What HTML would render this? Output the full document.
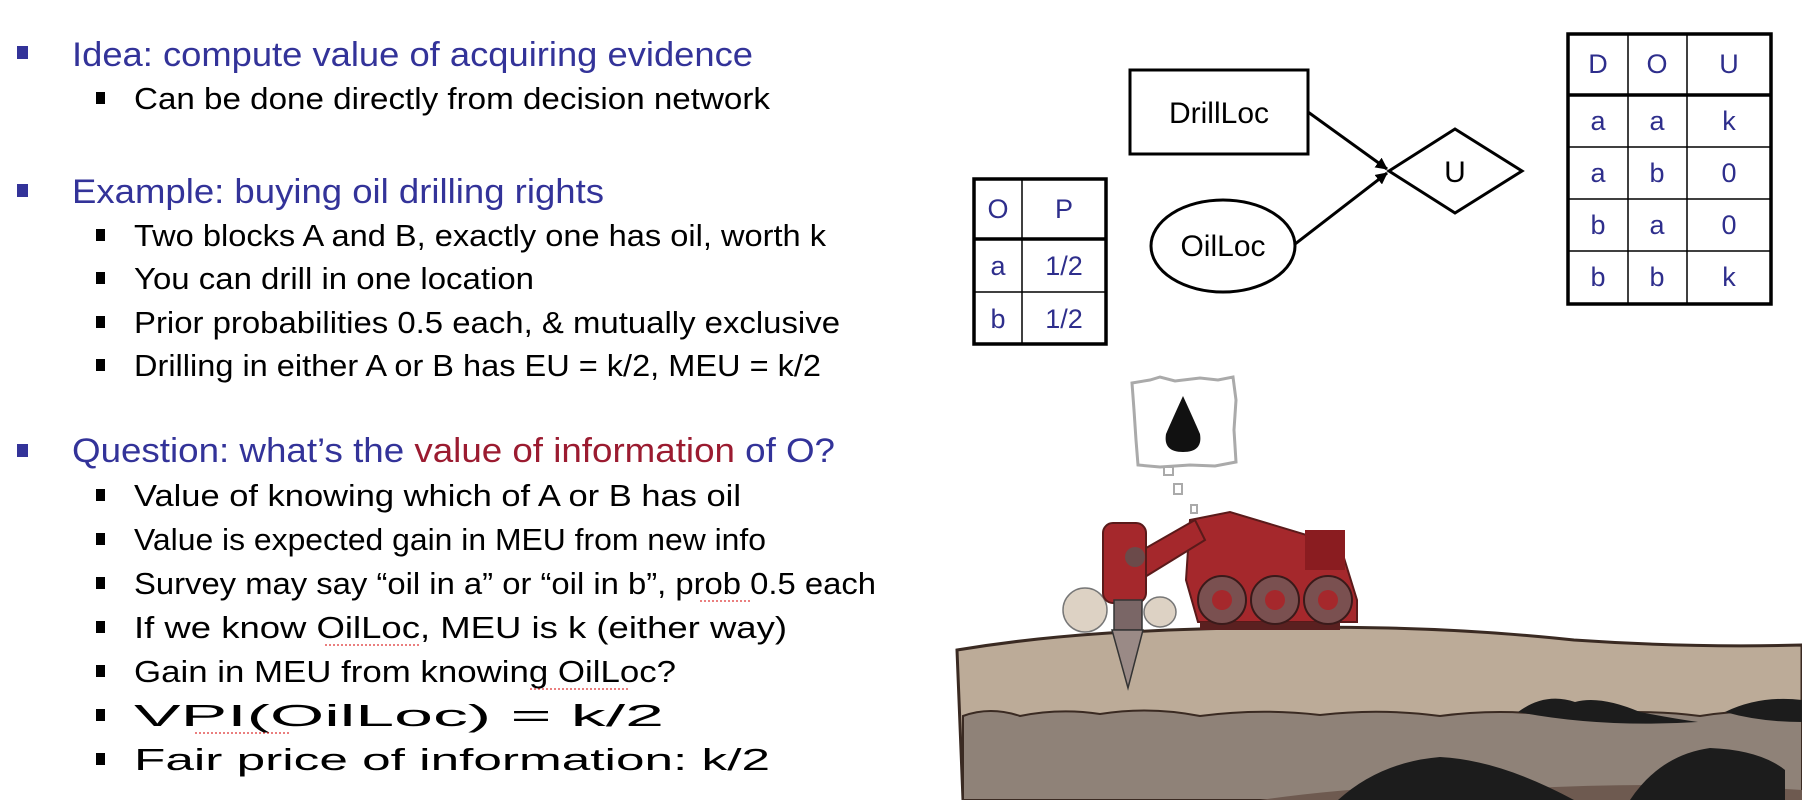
<!DOCTYPE html>
<html><head><meta charset="utf-8">
<style>
html,body{margin:0;padding:0;background:#fff;}
svg{display:block;}
text{font-family:"Liberation Sans",sans-serif;}
.b{fill:#333399;font-size:34px;}
.s{fill:#000;font-size:31px;}
.t{fill:#2e2e8c;font-size:27px;text-anchor:middle;}
.n{fill:#000;font-size:30px;text-anchor:middle;}
</style></head>
<body>
<svg width="1802" height="800" viewBox="0 0 1802 800">
<g>
<rect x="17" y="46" width="11" height="13" fill="#333399"/>
<text class="b" x="72" y="66" textLength="681" lengthAdjust="spacingAndGlyphs">Idea: compute value of acquiring evidence</text>
<rect x="96" y="92" width="9" height="12" fill="#000"/>
<text class="s" x="134" y="109" textLength="636" lengthAdjust="spacingAndGlyphs">Can be done directly from decision network</text>

<rect x="17" y="184" width="11" height="13" fill="#333399"/>
<text class="b" x="72" y="203" textLength="532" lengthAdjust="spacingAndGlyphs">Example: buying oil drilling rights</text>
<rect x="96" y="229" width="9" height="12" fill="#000"/>
<text class="s" x="134" y="246" textLength="692" lengthAdjust="spacingAndGlyphs">Two blocks A and B, exactly one has oil, worth k</text>
<rect x="96" y="272" width="9" height="12" fill="#000"/>
<text class="s" x="134" y="289" textLength="400" lengthAdjust="spacingAndGlyphs">You can drill in one location</text>
<rect x="96" y="316" width="9" height="12" fill="#000"/>
<text class="s" x="134" y="333" textLength="706" lengthAdjust="spacingAndGlyphs">Prior probabilities 0.5 each, &amp; mutually exclusive</text>
<rect x="96" y="359" width="9" height="12" fill="#000"/>
<text class="s" x="134" y="376" textLength="687" lengthAdjust="spacingAndGlyphs">Drilling in either A or B has EU = k/2, MEU = k/2</text>

<rect x="17" y="444" width="11" height="13" fill="#333399"/>
<text class="b" x="72" y="462" textLength="763" lengthAdjust="spacingAndGlyphs">Question: what’s the <tspan fill="#9b1b30">value of information</tspan> of O?</text>
<rect x="96" y="489" width="9" height="12" fill="#000"/>
<text class="s" x="134" y="506" textLength="607" lengthAdjust="spacingAndGlyphs">Value of knowing which of A or B has oil</text>
<rect x="96" y="533" width="9" height="12" fill="#000"/>
<text class="s" x="134" y="550" textLength="632" lengthAdjust="spacingAndGlyphs">Value is expected gain in MEU from new info</text>
<rect x="96" y="577" width="9" height="12" fill="#000"/>
<text class="s" x="134" y="594" textLength="742" lengthAdjust="spacingAndGlyphs">Survey may say “oil in a” or “oil in b”, prob 0.5 each</text>
<rect x="96" y="621" width="9" height="12" fill="#000"/>
<text class="s" x="134" y="638" textLength="653" lengthAdjust="spacingAndGlyphs">If we know OilLoc, MEU is k (either way)</text>
<rect x="96" y="665" width="9" height="12" fill="#000"/>
<text class="s" x="134" y="682" textLength="542" lengthAdjust="spacingAndGlyphs">Gain in MEU from knowing OilLoc?</text>
<rect x="96" y="709" width="9" height="12" fill="#000"/>
<text class="s" x="134" y="726" textLength="530" lengthAdjust="spacingAndGlyphs">VPI(OilLoc) = k/2</text>
<rect x="96" y="753" width="9" height="12" fill="#000"/>
<text class="s" x="134" y="770" textLength="636" lengthAdjust="spacingAndGlyphs">Fair price of information: k/2</text>
<g stroke="#d33" stroke-width="1.2" stroke-dasharray="2 2" fill="none">
<line x1="700" y1="601" x2="752" y2="601"/><line x1="325" y1="645" x2="420" y2="645"/>
<line x1="530" y1="689" x2="630" y2="689"/><line x1="195" y1="733" x2="290" y2="733"/>
</g>
</g>

<g>
<defs><marker id="ah" markerWidth="12" markerHeight="12" refX="11" refY="6" orient="auto" markerUnits="userSpaceOnUse"><path d="M0,0 L12,6 L0,12 z" fill="#000"/></marker></defs>
<rect x="1130" y="70" width="178" height="84" fill="#fff" stroke="#000" stroke-width="3"/>
<text class="n" x="1219" y="123">DrillLoc</text>
<ellipse cx="1223" cy="246" rx="72" ry="46" fill="#fff" stroke="#000" stroke-width="3"/>
<text class="n" x="1223" y="256">OilLoc</text>
<polygon points="1389,171 1455,129 1522,171 1455,213" fill="#fff" stroke="#000" stroke-width="3"/>
<text class="n" x="1455" y="182">U</text>
<line x1="1308" y1="112" x2="1387" y2="169" stroke="#000" stroke-width="3" marker-end="url(#ah)"/>
<line x1="1295" y1="244" x2="1387" y2="173" stroke="#000" stroke-width="3" marker-end="url(#ah)"/>
</g>

<g stroke="#000">
<rect x="974" y="179" width="132" height="165" fill="#fff" stroke-width="3.5"/>
<line x1="1022" y1="179" x2="1022" y2="344" stroke-width="1.5"/>
<line x1="974" y1="239" x2="1106" y2="239" stroke-width="3.5"/>
<line x1="974" y1="292" x2="1106" y2="292" stroke-width="1.5"/>
</g>
<g stroke="none">
<text class="t" x="998" y="218">O</text><text class="t" x="1064" y="218">P</text>
<text class="t" x="998" y="275">a</text><text class="t" x="1064" y="275">1/2</text>
<text class="t" x="998" y="328">b</text><text class="t" x="1064" y="328">1/2</text>
</g>

<g stroke="#000">
<rect x="1568" y="34" width="203" height="270" fill="#fff" stroke-width="3.5"/>
<line x1="1628" y1="34" x2="1628" y2="304" stroke-width="1.5"/>
<line x1="1687" y1="34" x2="1687" y2="304" stroke-width="1.5"/>
<line x1="1568" y1="95" x2="1771" y2="95" stroke-width="3.5"/>
<line x1="1568" y1="147" x2="1771" y2="147" stroke-width="1.5"/>
<line x1="1568" y1="199" x2="1771" y2="199" stroke-width="1.5"/>
<line x1="1568" y1="251" x2="1771" y2="251" stroke-width="1.5"/>
</g>
<g>
<text class="t" x="1598" y="73">D</text><text class="t" x="1657" y="73">O</text><text class="t" x="1729" y="73">U</text>
<text class="t" x="1598" y="130">a</text><text class="t" x="1657" y="130">a</text><text class="t" x="1729" y="130">k</text>
<text class="t" x="1598" y="182">a</text><text class="t" x="1657" y="182">b</text><text class="t" x="1729" y="182">0</text>
<text class="t" x="1598" y="234">b</text><text class="t" x="1657" y="234">a</text><text class="t" x="1729" y="234">0</text>
<text class="t" x="1598" y="286">b</text><text class="t" x="1657" y="286">b</text><text class="t" x="1729" y="286">k</text>
</g>

<g>
<path d="M957,650 Q1030,638 1109,633 Q1250,625 1388,628 Q1480,630 1574,640 Q1690,648 1802,645 L1802,800 L963,800 Z" fill="#bcab98" stroke="#3a2a22" stroke-width="3"/>
<path d="M963,716 Q990,706 1020,716 Q1060,708 1100,714 Q1150,706 1200,716 Q1260,708 1320,715 Q1380,708 1440,716 Q1500,708 1560,716 Q1640,708 1700,716 Q1750,708 1802,714 L1802,800 L963,800 Z" fill="#8f8278" stroke="#3a2a22" stroke-width="2"/>
<path d="M1260,800 Q1400,780 1500,790 Q1650,780 1802,790 L1802,800 Z" fill="#6e5a50"/>
<path d="M1518,712 Q1545,692 1575,702 Q1600,695 1640,712 Q1670,718 1698,722 Q1600,728 1518,712 Z" fill="#1c1c1c"/>
<path d="M1725,712 Q1760,695 1802,700 L1802,722 Q1760,722 1725,712 Z" fill="#1c1c1c"/>
<path d="M1338,800 Q1380,762 1440,757 Q1500,760 1574,800 Z" fill="#1c1c1c"/>
<path d="M1630,800 Q1660,755 1710,748 Q1760,750 1785,770 L1785,800 Z" fill="#1c1c1c"/>
</g>

<g>
<path d="M1132,383 L1150,380 L1160,377 L1175,381 L1200,378 L1218,380 L1233,377 L1236,400 L1234,430 L1236,462 L1215,466 L1190,465 L1160,467 L1138,465 L1136,440 L1134,410 Z" fill="#fff" stroke="#aaa" stroke-width="3"/>
<path d="M1183,396 Q1172,420 1166,434 Q1163,452 1183,452 Q1203,452 1200,434 Q1194,420 1183,396 Z" fill="#111"/>
<rect x="1164" y="467" width="9" height="8" fill="#fff" stroke="#aaa" stroke-width="2"/>
<rect x="1174" y="484" width="8" height="10" fill="#fff" stroke="#aaa" stroke-width="2"/>
<rect x="1191" y="505" width="6" height="8" fill="#fff" stroke="#aaa" stroke-width="2"/>
</g>

<g>
<ellipse cx="1085" cy="610" rx="22" ry="22" fill="#ddd2c4" stroke="#777" stroke-width="1.5"/>
<ellipse cx="1160" cy="612" rx="16" ry="15" fill="#ddd2c4" stroke="#777" stroke-width="1.5"/>
<path d="M1190,520 L1230,512 L1340,545 L1357,600 L1357,622 L1198,622 L1186,580 Z" fill="#a5282c" stroke="#5a1a1a" stroke-width="2"/>
<rect x="1305" y="530" width="40" height="40" fill="#8a1c20"/>
<path d="M1125,560 L1195,520 L1205,540 L1140,580 Z" fill="#a5282c" stroke="#5a1a1a" stroke-width="2"/>
<rect x="1103" y="523" width="43" height="80" rx="10" fill="#a5282c" stroke="#5a1a1a" stroke-width="2"/>
<circle cx="1135" cy="557" r="10" fill="#6b4a4a"/>
<rect x="1114" y="600" width="28" height="30" fill="#7a6666" stroke="#333" stroke-width="1.5"/>
<path d="M1112,630 L1143,630 L1128,688 Z" fill="#9a8a86" stroke="#333" stroke-width="1.5"/>
<rect x="1200" y="622" width="140" height="8" fill="#5a2020"/>
<circle cx="1222" cy="600" r="24" fill="#7a5050" stroke="#3a1a1a" stroke-width="2"/>
<circle cx="1275" cy="600" r="24" fill="#7a5050" stroke="#3a1a1a" stroke-width="2"/>
<circle cx="1328" cy="600" r="24" fill="#7a5050" stroke="#3a1a1a" stroke-width="2"/>
<circle cx="1222" cy="600" r="10" fill="#a5282c"/>
<circle cx="1275" cy="600" r="10" fill="#a5282c"/>
<circle cx="1328" cy="600" r="10" fill="#a5282c"/>
</g>
</svg>
</body></html>
